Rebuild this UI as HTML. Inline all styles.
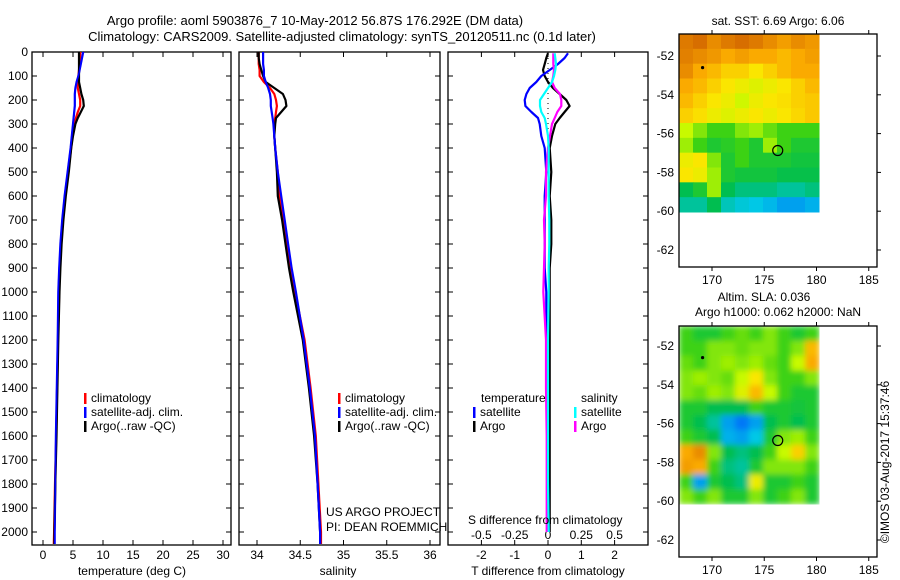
<!DOCTYPE html>
<html><head><meta charset="utf-8">
<style>
html,body{margin:0;padding:0;background:#fff;}
svg{display:block;font-family:"Liberation Sans",sans-serif;font-size:12px;}
</style></head>
<body>
<svg id="chart" width="900" height="580" viewBox="0 0 900 580" xmlns="http://www.w3.org/2000/svg">
<text x="315" y="25" text-anchor="middle" font-size="13">Argo profile: aoml 5903876_7 10-May-2012 56.87S 176.292E (DM data)</text>
<text x="342" y="41" text-anchor="middle" font-size="13">Climatology: CARS2009. Satellite-adjusted climatology: synTS_20120511.nc (0.1d later)</text>
<g id="p1"></g>
<g id="p2"></g>
<g id="p3"></g>
<g id="m1"></g>
<g id="m2"></g>
<text x="778" y="25" text-anchor="middle">sat. SST: 6.69 Argo: 6.06</text>
<text x="764" y="301" text-anchor="middle">Altim. SLA: 0.036</text>
<text x="778" y="316" text-anchor="middle">Argo h1000: 0.062 h2000: NaN</text>
<text x="0" y="0" transform="translate(889,462) rotate(-90)" text-anchor="middle" font-size="12">©IMOS 03-Aug-2017 15:37:46</text>
</svg>
<script>
// ---- data ----
const depthTicks = [0,100,200,300,400,500,600,700,800,900,1000,1100,1200,1300,1400,1500,1600,1700,1800,1900,2000];
const profDepth = [0,25,50,75,100,125,150,175,200,225,250,275,300,350,400,500,600,700,800,900,1000,1200,1400,1600,1800,2000,2050];
const tempClim  = [6.2,6.2,6.1,6.0,5.9,5.8,5.8,6.0,6.2,6.2,5.8,5.5,5.2,4.9,4.7,4.2,3.7,3.3,3.0,2.8,2.7,2.5,2.35,2.2,2.0,1.85,1.8];
const tempSat   = [6.7,6.5,6.3,6.1,5.9,5.6,5.4,5.3,5.3,5.3,5.2,5.1,5.0,4.8,4.6,4.1,3.6,3.2,2.9,2.7,2.55,2.45,2.3,2.15,2.05,1.95,1.95];
const tempArgo  = [6.0,6.0,6.0,6.0,6.0,6.0,6.2,6.4,6.7,6.8,6.3,5.8,5.4,5.0,4.7,4.3,3.8,3.4,3.1,2.9,2.75,2.55,2.4,2.25,2.05,1.9,1.9];
const salClim   = [34.02,34.02,34.02,34.03,34.03,34.08,34.15,34.2,34.22,34.23,34.22,34.21,34.2,34.2,34.21,34.24,34.26,34.31,34.35,34.39,34.44,34.55,34.62,34.68,34.71,34.74,34.74];
const salSat    = [34.07,34.07,34.07,34.08,34.08,34.1,34.13,34.15,34.16,34.16,34.17,34.18,34.19,34.2,34.21,34.24,34.28,34.32,34.36,34.4,34.45,34.54,34.61,34.67,34.7,34.73,34.73];
const salArgo   = [34.02,34.02,34.03,34.05,34.07,34.1,34.2,34.3,34.33,34.34,34.28,34.22,34.21,34.2,34.21,34.23,34.24,34.29,34.33,34.37,34.42,34.53,34.6,34.66,34.7,34.73,34.73];
const diffDepth = [5,25,50,75,100,125,150,175,200,225,250,275,300,350,400,500,600,700,800,900,1000,1200,1400,1600,1800,2000];
const dTArgo = [0,-0.05,-0.1,-0.15,-0.1,0.0,0.15,0.35,0.55,0.65,0.5,0.35,0.22,0.12,0.05,0.1,0.05,0.1,0.1,0.05,0.05,0.05,0.05,0.05,0.05,0.05];
const dTSat  = [0.6,0.5,0.3,0.05,-0.2,-0.35,-0.55,-0.65,-0.7,-0.68,-0.5,-0.3,-0.25,-0.2,-0.1,-0.05,-0.1,-0.1,-0.1,-0.1,-0.05,-0.05,-0.05,-0.02,0,0.02];
const dSArgo = [0.04,0.04,0.04,0.045,0.04,0.03,0.05,0.09,0.1,0.1,0.07,0.05,0.03,0.015,0.0,-0.015,-0.015,-0.03,-0.025,-0.03,-0.035,-0.015,-0.015,-0.01,-0.01,-0.01];
const dSSat  = [0.05,0.055,0.06,0.055,0.045,0.03,0.0,-0.03,-0.06,-0.06,-0.05,-0.025,-0.015,0.0,0.005,0.005,0.005,0.01,0.01,0.005,0.005,0.0,0.0,0.0,0.0,0.005];
const tTicks = [0,5,10,15,20,25,30];
const sTicks = [34,34.5,35,35.5,36];
const tdTicks = [-2,-1,0,1,2];
const sdTickLabels = ["-0.5","-0.25","0","0.25","0.5"];
const sdTicks = [-0.5,-0.25,0,0.25,0.5];
const lonTicks = [170,175,180,185];
const latTicks = [-52,-54,-56,-58,-60,-62];
const sstGrid = [
[0.88,0.9,0.85,0.88,0.9,0.88,0.85,0.82,0.85,0.83],
[0.87,0.85,0.83,0.8,0.82,0.8,0.8,0.78,0.8,0.82],
[0.85,0.8,0.78,0.75,0.75,0.72,0.75,0.78,0.8,0.8],
[0.8,0.78,0.75,0.72,0.7,0.68,0.7,0.72,0.75,0.78],
[0.78,0.75,0.72,0.7,0.66,0.7,0.72,0.73,0.75,0.76],
[0.75,0.73,0.7,0.68,0.7,0.72,0.7,0.72,0.74,0.76],
[0.65,0.6,0.55,0.55,0.6,0.62,0.58,0.55,0.55,0.55],
[0.62,0.55,0.5,0.52,0.55,0.5,0.62,0.55,0.5,0.5],
[0.7,0.72,0.6,0.5,0.55,0.5,0.5,0.5,0.48,0.48],
[0.72,0.7,0.62,0.5,0.48,0.48,0.48,0.46,0.46,0.46],
[0.45,0.5,0.62,0.45,0.42,0.42,0.42,0.4,0.4,0.42],
[0.4,0.4,0.45,0.38,0.36,0.35,0.33,0.3,0.3,0.32]];
const slaGrid = [
[0.55,0.5,0.5,0.55,0.58,0.55,0.6,0.55,0.5,0.55],
[0.55,0.55,0.6,0.6,0.58,0.6,0.6,0.55,0.6,0.78],
[0.58,0.55,0.6,0.62,0.6,0.62,0.58,0.55,0.65,0.8],
[0.6,0.62,0.6,0.58,0.65,0.72,0.6,0.55,0.55,0.6],
[0.6,0.58,0.62,0.6,0.68,0.78,0.65,0.55,0.5,0.5],
[0.5,0.5,0.45,0.45,0.45,0.55,0.5,0.5,0.48,0.5],
[0.5,0.45,0.4,0.3,0.25,0.3,0.45,0.5,0.45,0.5],
[0.55,0.5,0.45,0.32,0.3,0.35,0.5,0.6,0.62,0.55],
[0.8,0.85,0.6,0.45,0.42,0.45,0.55,0.65,0.75,0.6],
[0.82,0.8,0.55,0.42,0.4,0.5,0.6,0.6,0.6,0.55],
[0.55,0.3,0.5,0.45,0.42,0.7,0.5,0.5,0.55,0.5],
[0.6,0.55,0.6,0.5,0.5,0.6,0.5,0.55,0.6,0.5]];
const argoPos = [176.29,-56.87];
const refPos = [169.1,-52.6];

// ---- helpers ----
const NS="http://www.w3.org/2000/svg";
function mk(parent,tag,attrs,txt){const e=document.createElementNS(NS,tag);for(const k in attrs)e.setAttribute(k,attrs[k]);if(txt!==undefined)e.textContent=txt;parent.appendChild(e);return e;}
const yD = d => 52 + 0.24*d;
const xT = t => 43 + 6*t;
const xS = s => 257 + 86.5*(s-34);
const xTd = t => 548 + 33.3*t;
const xSd = s => 548 + 133.2*s;
const lonX = l => 712 + 10.45*(l-170);
const latY1 = l => 56 + 19.4*(-52-l);
const latY2 = l => 346 + 19.4*(-52-l);

function frame(g,x0,x1,name){
  const r=mk(g,'rect',{x:x0,y:52,width:x1-x0,height:493,fill:'none',stroke:'#000','stroke-width':1.3});
  
  
  depthTicks.forEach(d=>{
    const y=yD(d);
    const t1=mk(g,'line',{x1:x0,x2:x0+5,y1:y,y2:y,stroke:'#000'});
    
    
    const t2=mk(g,'line',{x1:x1-5,x2:x1,y1:y,y2:y,stroke:'#000'});
    
    
  });
}
function xticks(g,ticks,fx,labels,ly){
  ticks.forEach((v,i)=>{
    const x=fx(v);
    const a=mk(g,'line',{x1:x,x2:x,y1:52,y2:57,stroke:'#000'});
    
    
    const b=mk(g,'line',{x1:x,x2:x,y1:540,y2:545,stroke:'#000'});
    
    
    if(labels){const t=mk(g,'text',{x:x,y:ly,'text-anchor':'middle'},labels[i]);
      
      }
  });
}
function line(g,xs,ys,fx,color,name,w){
  const pts=xs.map((v,i)=>fx(v).toFixed(1)+','+yD(ys[i]).toFixed(1)).join(' ');
  const p=mk(g,'polyline',{points:pts,fill:'none',stroke:color,'stroke-width':w||2.2,'stroke-linejoin':'round'});
  
  
}
function legend(g,x,y,color,label,name){
  const b=mk(g,'rect',{x:x,y:y-5,width:2.5,height:11,fill:color});
  
  
  const t=mk(g,'text',{x:x+7,y:y+4},label);
  
  
}

// ---- panel 1 ----
const p1=document.getElementById('p1');
frame(p1,32,231,'temperature-frame');
xticks(p1,tTicks,xT,tTicks.map(String),559);
depthTicks.forEach(d=>{const t=mk(p1,'text',{x:28,y:yD(d)+4,'text-anchor':'end'},String(d));
  
  });
line(p1,tempClim,profDepth,xT,'#f00','temp-climatology-line');
line(p1,tempSat,profDepth,xT,'#00f','temp-satellite-line');
line(p1,tempArgo,profDepth,xT,'#000','temp-argo-line');
line(p1,tempSat,profDepth,xT,'#00f','temp-satellite-line-top',1.6);
legend(p1,84,398,'#f00','climatology','temp-legend-climatology');
legend(p1,84,412,'#00f','satellite-adj. clim.','temp-legend-satellite');
legend(p1,84,426,'#000','Argo(..raw -QC)','temp-legend-argo');
{const t=mk(p1,'text',{x:132,y:575,'text-anchor':'middle'},'temperature (deg C)');
 }

// ---- panel 2 ----
const p2=document.getElementById('p2');
frame(p2,239,440,'salinity-frame');
xticks(p2,sTicks,xS,sTicks.map(String),559);
line(p2,salClim,profDepth,xS,'#f00','sal-climatology-line');
line(p2,salArgo,profDepth,xS,'#000','sal-argo-line');
line(p2,salSat,profDepth,xS,'#00f','sal-satellite-line');
legend(p2,338,398,'#f00','climatology','sal-legend-climatology');
legend(p2,338,412,'#00f','satellite-adj. clim.','sal-legend-satellite');
legend(p2,338,426,'#000','Argo(..raw -QC)','sal-legend-argo');
{const t=mk(p2,'text',{x:326,y:516},'US ARGO PROJECT');
 const u=mk(p2,'text',{x:326,y:531},'PI: DEAN ROEMMICH');
 const v=mk(p2,'text',{x:338,y:575,'text-anchor':'middle'},'salinity');}

// ---- panel 3 ----
const p3=document.getElementById('p3');
frame(p3,448,648,'difference-frame');
xticks(p3,tdTicks,xTd,tdTicks.map(String),559);
sdTicks.forEach((v,i)=>{const t=mk(p3,'text',{x:xSd(v),y:539,'text-anchor':'middle'},sdTickLabels[i]);
  });
{const z=mk(p3,'line',{x1:548,x2:548,y1:58,y2:150,stroke:'#000','stroke-dasharray':'1 4'});
 }
line(p3,dTArgo,diffDepth,xTd,'#000','t-diff-argo-line');
line(p3,dTSat,diffDepth,xTd,'#00f','t-diff-satellite-line');
line(p3,dSArgo,diffDepth,xSd,'#f0f','s-diff-argo-line');
line(p3,dSSat,diffDepth,xSd,'#0ff','s-diff-satellite-line');
{const t=mk(p3,'text',{x:481,y:402},'temperature');
 const s=mk(p3,'text',{x:581,y:402},'salinity');}
legend(p3,473,412,'#00f','satellite','t-diff-legend-satellite');
legend(p3,473,426,'#000','Argo','t-diff-legend-argo');
legend(p3,574,412,'#0ff','satellite','s-diff-legend-satellite');
legend(p3,574,426,'#f0f','Argo','s-diff-legend-argo');
{const t=mk(p3,'text',{x:468,y:524},'S difference from climatology');
 const u=mk(p3,'text',{x:548,y:575,'text-anchor':'middle'},'T difference from climatology');}

// ---- maps ----
function cmap(v){
  const stops=[[0.2,[0,80,255]],[0.35,[0,200,230]],[0.45,[0,190,80]],[0.55,[60,210,20]],[0.65,[200,250,0]],[0.72,[250,230,0]],[0.8,[250,170,0]],[0.9,[215,110,0]]];
  if(v<=stops[0][0])return 'rgb('+stops[0][1]+')';
  for(let i=1;i<stops.length;i++){if(v<=stops[i][0]){const a=stops[i-1],b=stops[i],f=(v-a[0])/(b[0]-a[0]);
    return 'rgb('+a[1].map((c,k)=>Math.round(c+(b[1][k]-c)*f)).join(',')+')';}}
  return 'rgb('+stops[stops.length-1][1]+')';
}
function map(g,grid,top,latY,blur,name){
  const x0=679,x1=877,imgW=140,imgH=178;
  const bottom=top===34?267:557;
  const cg=mk(g,'g',blur?{filter:'url(#bl)'}:{});
  
  
  const rows=grid.length,cols=grid[0].length,cw=imgW/cols,ch=imgH/rows;
  grid.forEach((row,r)=>row.forEach((v,c)=>{
    const cell=mk(cg,'rect',{x:x0+c*cw,y:top+r*ch,width:cw+0.5,height:ch+0.5,fill:cmap(v)});
    
    
  }));
  const fr=mk(g,'rect',{x:x0,y:top,width:x1-x0,height:bottom-top,fill:'none',stroke:'#000','stroke-width':1.3});
  
  lonTicks.forEach(l=>{const x=lonX(l);
    const a=mk(g,'line',{x1:x,x2:x,y1:top-4,y2:top,stroke:'#000'});
    const c=mk(g,'line',{x1:x,x2:x,y1:bottom,y2:bottom+4,stroke:'#000'});
    const t=mk(g,'text',{x:x,y:bottom+17,'text-anchor':'middle'},String(l));});
  latTicks.forEach(l=>{const y=latY(l);
    const a=mk(g,'line',{x1:x1,x2:x1+4,y1:y,y2:y,stroke:'#000'});
    const t=mk(g,'text',{x:674,y:y+4,'text-anchor':'end'},String(l));});
  const m=mk(g,'circle',{cx:lonX(argoPos[0]),cy:latY(argoPos[1]),r:5,fill:'none',stroke:'#000','stroke-width':1.2});
  
  const d=mk(g,'circle',{cx:lonX(refPos[0]),cy:latY(refPos[1]),r:1.6,fill:'#000'});
  
}
const defs=mk(document.getElementById('chart'),'defs',{});
const f=mk(defs,'filter',{id:'bl',x:'0',y:'0',width:'1',height:'1'});
mk(f,'feGaussianBlur',{stdDeviation:3,edgeMode:'duplicate'});
map(document.getElementById('m1'),sstGrid,34,latY1,false,'sst-map');
map(document.getElementById('m2'),slaGrid,326,latY2,true,'sla-map');
</script>
</body></html>
